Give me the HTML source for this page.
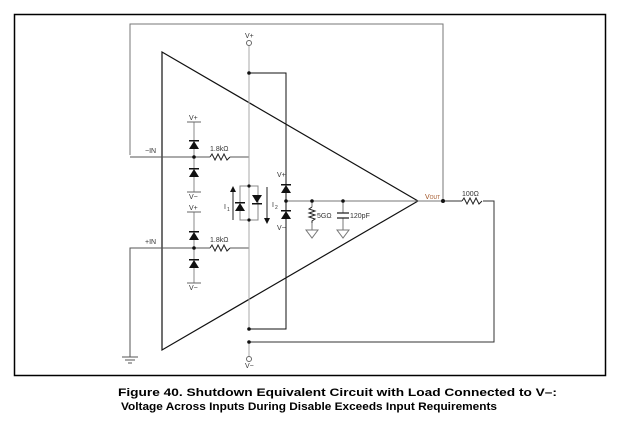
<!DOCTYPE html>
<html><head><meta charset="utf-8"><style>body{margin:0;background:#fff}svg{display:block}</style></head><body>
<svg width="620" height="423" viewBox="0 0 620 423" xmlns="http://www.w3.org/2000/svg" font-family="Liberation Sans, sans-serif">
<rect x="14.5" y="14.5" width="591" height="361" fill="none" stroke="#000" stroke-width="1.5"/>
<g fill="none" stroke="#222" stroke-width="1">
<path d="M162 52 L418 201 L162 350 Z" stroke="#111" stroke-width="1.2"/>
<path d="M130 155 V24 H443 V201" stroke="#777"/>
<path d="M130 157 H210 M230 157 H249 V186" stroke="#555"/>
<path d="M210 157 l2 -3 l3 6 l3 -6 l3 6 l3 -6 l3 6 l3 -3" />
<path d="M130 357 V248 H210 M230 248 H249 V220" stroke="#555"/>
<path d="M210 248 l2 -3 l3 6 l3 -6 l3 6 l3 -6 l3 6 l3 -3" />
<path d="M122 357 H138 M125 360 H135 M128 363 H132" stroke="#555"/>
<path d="M194 122 V192 M194 212 V283" stroke="#888"/>
<path d="M187 122 H201 M187 192 H201 M187 212 H201 M187 283 H201" stroke="#666"/>
<rect x="240" y="186" width="18" height="34" stroke="#888"/>
<path d="M249 46 V329 M249 342 V357" stroke="#aaa"/>
<circle cx="249" cy="43" r="2.5" stroke="#666"/>
<circle cx="249" cy="359" r="2.5" stroke="#666"/>
<path d="M249 73 H286 V329 H249" stroke="#111"/>
<path d="M249 342 H494 V201 H483 M462 201 H443" stroke="#333"/>
<path d="M462 201 l2 -3 l3 6 l3 -6 l3 6 l3 -6 l3 6 l3 -3"/>
<path d="M418 201 H443" stroke="#777"/>
<path d="M286 201 H418" stroke="#777"/>
<path d="M312 201 V207 M312 223 V230 M343 201 V213 M343 218 V230" stroke="#777"/>
<path d="M312 207 l-3 2 l6 2 l-6 2 l6 2 l-6 2 l6 2 l-3 2 V223" />
<path d="M337 213 H349 M337 218 H349" stroke-width="1.3"/>
<path d="M306 230 H318 L312 238 Z M337 230 H349 L343 238 Z" stroke="#777"/>
<path d="M233 220 V191 M267 187 V219"/>
</g>
<g fill="#111">
<path d="M189 149 L199 149 L194 141 Z M189 177 L199 177 L194 169 Z M189 240 L199 240 L194 232 Z M189 268 L199 268 L194 260 Z"/>
<path d="M189 140 h10 v1.5 h-10z M189 168 h10 v1.5 h-10z M189 231 h10 v1.5 h-10z M189 259 h10 v1.5 h-10z"/>
<path d="M235 211 L245 211 L240 203 Z M235 202 h10 v1.5 h-10z"/>
<path d="M252 195 L262 195 L257 203 Z M252 203 h10 v1.5 h-10z"/>
<path d="M281 193 L291 193 L286 185 Z M281 184 h10 v1.5 h-10z"/>
<path d="M281 219 L291 219 L286 211 Z M281 210 h10 v1.5 h-10z"/>
<path d="M230 192 L236 192 L233 186 Z M264 218 L270 218 L267 224 Z"/>
<circle cx="194" cy="157" r="1.8"/><circle cx="194" cy="248" r="1.8"/>
<circle cx="249" cy="73" r="1.8"/><circle cx="249" cy="329" r="1.8"/><circle cx="249" cy="342" r="1.8"/>
<circle cx="286" cy="201" r="1.8"/><circle cx="312" cy="201" r="1.8"/><circle cx="343" cy="201" r="1.8"/>
<circle cx="443" cy="201" r="2"/>
<circle cx="249" cy="186" r="1.6"/><circle cx="249" cy="220" r="1.6"/>
</g>
<g font-size="7" fill="#333">
<text x="145" y="153">−IN</text><text x="145" y="244">+IN</text>
<text x="210" y="151">1.8kΩ</text><text x="210" y="242">1.8kΩ</text>
<text x="189" y="120">V+</text><text x="189" y="199">V−</text>
<text x="189" y="210">V+</text><text x="189" y="290">V−</text>
<text x="245" y="38">V+</text><text x="245" y="368">V−</text>
<text x="277" y="177">V+</text><text x="277" y="230">V−</text>
<text x="224" y="209">I</text><text x="227" y="211" font-size="5">1</text>
<text x="272" y="207">I</text><text x="275" y="209" font-size="5">2</text>
<text x="317" y="218">5GΩ</text><text x="350" y="218">120pF</text>
<text x="425" y="199" fill="#a05020">V<tspan font-size="5">OUT</tspan></text>
<text x="462" y="196">100Ω</text>
</g>
<g font-size="11" font-weight="bold" fill="#000">
<text x="118" y="396" textLength="439" lengthAdjust="spacingAndGlyphs">Figure 40.  Shutdown Equivalent Circuit with Load Connected to V–:</text>
<text x="121" y="410" textLength="376" lengthAdjust="spacingAndGlyphs">Voltage Across Inputs During Disable Exceeds Input Requirements</text>
</g>
</svg>
</body></html>
